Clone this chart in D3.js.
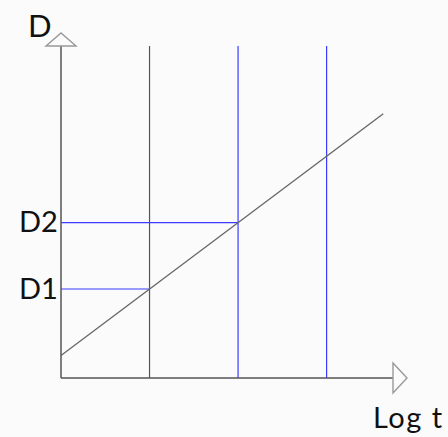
<!DOCTYPE html>
<html>
<head>
<meta charset="utf-8">
<script src="https://cdn.jsdelivr.net/npm/d3@7"></script>
<style>
  html, body { margin: 0; padding: 0; background: #fbfbfb; }
  svg { display: block; }
  text { font-family: Lato, "Noto Sans", sans-serif; fill: #111; }
</style>
</head>
<body>
<svg id="chart" width="448" height="437"></svg>
<script>
// Log t positions of the vertical reference lines
const markerT = [1, 2, 3];
const markerColors = ["#555555", "#3b3bff", "#3b3bff"];

// Straight line D = f(log t)
const lineT = [0, 3.64];
const lineD = [0.34, 3.98];

// Levels at the first two markers
const levelLabels = ["D1", "D2"];
const levelT = [1, 2];
const levelD = [1.34, 2.34];

const axisLabelX = "Log t";
const axisLabelY = "D";

const svg = d3.select("#chart");

const x = d3.scaleLinear().domain([0, 3.75]).range([61, 393]);
const y = d3.scaleLinear().domain([0, 5]).range([378, 46]);

const gray = "#555555";
const blue = "#3b3bff";

// Vertical markers
svg.selectAll("line.marker")
  .data(markerT)
  .join("line")
  .attr("class", "marker")
  .attr("x1", d => x(d)).attr("x2", d => x(d))
  .attr("y1", y(0)).attr("y2", y(5))
  .attr("stroke", (d, i) => markerColors[i])
  .attr("stroke-width", 1.2);

// Horizontal level lines from the D axis to the marker
svg.selectAll("line.level")
  .data(levelD)
  .join("line")
  .attr("class", "level")
  .attr("x1", x(0)).attr("x2", (d, i) => x(levelT[i]))
  .attr("y1", d => y(d)).attr("y2", d => y(d))
  .attr("stroke", blue)
  .attr("stroke-width", 1.2);

// Level labels
svg.selectAll("text.level")
  .data(levelD)
  .join("text")
  .attr("class", "level")
  .attr("x", 19)
  .attr("y", d => y(d) + 9.5)
  .attr("font-size", 29)
  .text((d, i) => levelLabels[i]);

// The D vs log t line
const pts = lineT.map((t, i) => [x(t), y(lineD[i])]);
svg.append("path")
  .attr("d", d3.line()(pts))
  .attr("fill", "none")
  .attr("stroke", "#666")
  .attr("stroke-width", 1.3);

// Axes
svg.append("line")
  .attr("x1", x(0)).attr("x2", x(0))
  .attr("y1", y(0)).attr("y2", y(5))
  .attr("stroke", gray).attr("stroke-width", 1.5);
svg.append("line")
  .attr("x1", x(0)).attr("x2", x(3.75))
  .attr("y1", y(0)).attr("y2", y(0))
  .attr("stroke", gray).attr("stroke-width", 1.5);

// Arrow heads (open triangles)
const ax0 = x(0), ayTop = y(5);
svg.append("path")
  .attr("d", `M${ax0 - 15},${ayTop} L${ax0},${ayTop - 13} L${ax0 + 15},${ayTop} Z`)
  .attr("fill", "#fbfbfb").attr("stroke", "#999").attr("stroke-width", 1.4);
const axEnd = x(3.75), ay0 = y(0);
svg.append("path")
  .attr("d", `M${axEnd},${ay0 - 15} L${axEnd + 14},${ay0} L${axEnd},${ay0 + 15} Z`)
  .attr("fill", "#fbfbfb").attr("stroke", "#999").attr("stroke-width", 1.4);

// Axis titles
svg.append("text")
  .attr("x", 28).attr("y", 37)
  .attr("font-size", 31)
  .text(axisLabelY);
svg.append("text")
  .attr("x", 373).attr("y", 428)
  .attr("font-size", 29)
  .attr("letter-spacing", 1.5)
  .text(axisLabelX);
</script>
</body>
</html>
